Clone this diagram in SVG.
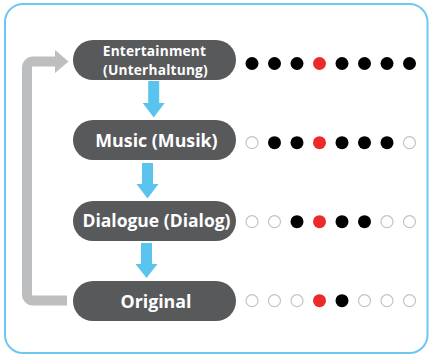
<svg xmlns="http://www.w3.org/2000/svg" width="429" height="356" viewBox="0 0 429 356">
<style>
.node{fill:#58595b}
.lbl{fill:#fff;font-family:"Open Sans","Noto Sans",sans-serif;font-weight:bold;text-anchor:middle}
.b{fill:#000}
.r{fill:#ed2a2a}
.o{fill:#fff;stroke:#c4c4c4;stroke-width:1.2}
.blue{fill:#5ac4ee}
</style>
<rect x="5" y="4" width="422.5" height="349" rx="18" fill="#fff" stroke="#6cc8ef" stroke-width="2"/>
<g id="connectors">
<path d="M67,300.5 H33 A6,6 0 0 1 27,294.5 V67.5 A6,6 0 0 1 33,61.5 H56" fill="none" stroke="#bcbec0" stroke-width="10"/>
<polygon points="55,50 68.5,61.5 55,73" fill="#bcbec0"/>
<polygon class="blue" points="148.2,81 159.2,81 159.2,103 164.7,103 153.7,117.5 142.7,103 148.2,103"/>
<polygon class="blue" points="142,163 153,163 153,184 158.5,184 147.5,198.5 136.5,184 142,184"/>
<polygon class="blue" points="141,243 152,243 152,264 157.5,264 146.5,278 135.5,264 141,264"/>
</g>
<g id="n1"><rect class="node" x="73" y="40" width="163" height="40" rx="20"/>
<text class="lbl" x="154.5" y="56" font-size="13.7" letter-spacing="0.2">Entertainment</text>
<text class="lbl" x="155.5" y="74.8" font-size="13.7" letter-spacing="0.2">(Unterhaltung)</text></g>
<g id="n2"><rect class="node" x="73" y="120" width="163" height="40" rx="20"/>
<text class="lbl" x="156.5" y="146.5" font-size="17.8">Music (Musik)</text></g>
<g id="n3"><rect class="node" x="73" y="201" width="163" height="40" rx="20"/>
<text class="lbl" x="156.5" y="227" font-size="17.5">Dialogue (Dialog)</text></g>
<g id="n4"><rect class="node" x="73" y="281" width="163" height="40" rx="20"/>
<text class="lbl" x="156" y="307.5" font-size="17.8">Original</text></g>
<g id="dots1">
<circle class="b" cx="252" cy="63.5" r="6.5"/><circle class="b" cx="274.5" cy="63.5" r="6.5"/><circle class="b" cx="297" cy="63.5" r="6.5"/><circle class="r" cx="319.5" cy="63.5" r="6.5"/><circle class="b" cx="342" cy="63.5" r="6.5"/><circle class="b" cx="364.5" cy="63.5" r="6.5"/><circle class="b" cx="387" cy="63.5" r="6.5"/><circle class="b" cx="409.5" cy="63.5" r="6.5"/>
</g>
<g id="dots2">
<circle class="o" cx="252" cy="142.7" r="6"/><circle class="b" cx="274.5" cy="142.7" r="6.5"/><circle class="b" cx="297" cy="142.7" r="6.5"/><circle class="r" cx="319.5" cy="142.7" r="6.5"/><circle class="b" cx="342" cy="142.7" r="6.5"/><circle class="b" cx="364.5" cy="142.7" r="6.5"/><circle class="b" cx="387" cy="142.7" r="6.5"/><circle class="o" cx="409.5" cy="142.7" r="6"/>
</g>
<g id="dots3">
<circle class="o" cx="252" cy="221.7" r="6"/><circle class="o" cx="274.5" cy="221.7" r="6"/><circle class="b" cx="297" cy="221.7" r="6.5"/><circle class="r" cx="319.5" cy="221.7" r="6.5"/><circle class="b" cx="342" cy="221.7" r="6.5"/><circle class="b" cx="364.5" cy="221.7" r="6.5"/><circle class="o" cx="387" cy="221.7" r="6"/><circle class="o" cx="409.5" cy="221.7" r="6"/>
</g>
<g id="dots4">
<circle class="o" cx="252" cy="300.7" r="6"/><circle class="o" cx="274.5" cy="300.7" r="6"/><circle class="o" cx="297" cy="300.7" r="6"/><circle class="r" cx="319.5" cy="300.7" r="6.5"/><circle class="b" cx="342" cy="300.7" r="6.5"/><circle class="o" cx="364.5" cy="300.7" r="6"/><circle class="o" cx="387" cy="300.7" r="6"/><circle class="o" cx="409.5" cy="300.7" r="6"/>
</g>
</svg>
